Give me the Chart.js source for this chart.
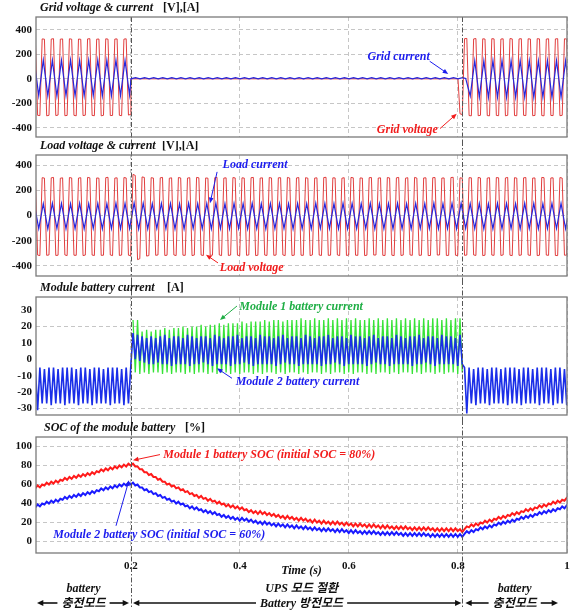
<!DOCTYPE html>
<html>
<head>
<meta charset="utf-8">
<script src="https://cdn.jsdelivr.net/npm/chart.js@4.4.1/dist/chart.umd.min.js"></script>
<style>
  html, body { margin: 0; padding: 0; background: #fff; }
  #wrap { position: relative; width: 570px; height: 612px; overflow: hidden; }
  canvas { position: absolute; left: 0; }
</style>
</head>
<body>
<div id="wrap">
  <canvas id="p1" width="570" height="141" style="top:0px"></canvas>
  <canvas id="p2" width="570" height="139" style="top:141px"></canvas>
  <canvas id="p3" width="570" height="140" style="top:280px"></canvas>
  <canvas id="p4" width="570" height="192" style="top:420px"></canvas>
</div>
<script>
// Axes
const X_MIN = 0.0257;
const timeTicks = [0.2, 0.4, 0.6, 0.8, 1];
const acTicks = [-400, -200, 0, 200, 400];
const batTicks = [-30, -20, -10, 0, 10, 20, 30];
const batGrid = [20, -30];
const socTicks = [0, 20, 40, 60, 80, 100];

// Switching instants: grid lost / grid back (s)
const events = [0.2, 0.808];
const modeLabels = [["battery", "충전모드"], ["UPS 모드 절환", "Battery 방전모드"], ["battery", "충전모드"]];

// Sampling of the read-off values (60 Hz waveforms)
const DT_Q = 1 / 240;      // quarter cycle
const DT_H = 1 / 120;      // half cycle
const T_V = 0.0245;        // first voltage / battery / SOC sample
const T_I = 0.0224;        // first current peak
const T_OFF = 0.2;
const DT_OFF = 1 / 30;
const T_VBACK = 0.8037;
const T_IBACK = 0.8141;
const T_BAT1 = 0.2037;

// Panel 1: grid voltage [V] and grid current [A]
const gridVoltPre = [322,
  -298, -300, 326, 324, -302, -298, 325, 328, -300, -296, 324, 326, -301, -299, 327, 324,
  -298, -302, 325, 323, -300, -297, 326, 328, -299, -301, 324, 325, -302, -298, 327, 324,
  -300, -299, 325, 326, -298, -301, 324, 327, -296, -290];
const gridVoltOff = [0, 0, 0, 0, 0, 0, 0, 0, 0, 0, 0, 0, 0, 0, 0, 0, 0, 0, 0];
const gridVoltPost = [-285, -292, 328, 330, -300, -302, 326, 329, -301, -298, 327, 325,
  -300, -302, 328, 326, -299, -301, 325, 327, -302, -298, 329, 326, -300, -301, 326, 328,
  -298, -300, 327, 325, -301, -299, 328, 326, -300, -302, 325, 327, -299, -300, 326, 328,
  -301, -298, 327, 325, -300];
const gridCurPre = [150, -136, 153, -138, 151, -140, 152, -137, 154, -139, 150, -138,
  152, -136, 153, -140, 151, -138, 152, -137, 150, -132];
const gridCurOff = [0, 9, 0, 9, 0, 9, 0, 9, 0, 9, 0, 9, 0, 9, 0, 9, 0, 9, 0, 9, 0, 9, 0, 9,
  0, 9, 0, 9, 0, 9, 0, 9, 0, 9, 0, 9, 0, 9, 0, 9, 0, 9, 0, 9, 0, 9, 0, 9, 0, 9, 0, 9,
  0, 9, 0, 9, 0, 9, 0, 9, 0, 9, 0, 9, 0, 9, 0, 9, 0, 9, 0, 9, 0, 9];
const gridCurPost = [3, -140, 148, -150, 147, -152, 149, -150, 148, -151, 147, -149,
  149, -150, 148, -152, 147, -150, 149, -151, 148, -150, 147, -150];

// Panel 2: load voltage [V] and load current [A]
const loadVolt = [296,
  -314, -318, 300, 297, -316, -313, 299, 302, -317, -315, 296, 299, -313, -318, 301, 298,
  -315, -316, 297, 300, -318, -314, 302, 299, -314, -317, 298, 296, -316, -315, 300, 303,
  -313, -318, 297, 299, -317, -314, 301, 298, -315, -318, 326, 318, -350, -343, 306, 302,
  -322, -318, 300, 297, -316, -313, 299, 302, -317, -315, 296, 299, -313, -318, 301, 298,
  -315, -316, 297, 300, -318, -314, 302, 299, -314, -317, 298, 296, -316, -315, 300, 303,
  -313, -318, 297, 299, -317, -314, 301, 298, -315, -318, 299, 297, -316, -313, 300, 302,
  -318, -315, 297, 299, -314, -317, 301, 298, -316, -314, 299, 300, -313, -318, 302, 297,
  -317, -315, 298, 301, -315, -316, 300, 296, -318, -313, 297, 299, -314, -317, 301, 303,
  -316, -315, 299, 298, -313, -318, 296, 300, -317, -314, 302, 299, -315, -316, 298, 297,
  -318, -315, 300, 301, -314, -313, 297, 299, -316, -317, 301, 298, -315, -318, 299, 302,
  -317, -314, 296, 300, -313, -316, 302, 297, -316, -315, 298, 299, -318, -317, 300, 301,
  -314, -313, 297, 298, -317, -316, 301, 303, -315, -318, 299, 296, -316, -314, 300, 299,
  -313, -317, 302, 298, -318, -315, 297, 300, -314, -316, 301, 299, -317, -313, 298, 302,
  -315, -318, 300, 297, -316, -314, 299, 301, -313, -317, 297, 298, -318, -315, 302, 300,
  -314, -316, 298, 299, -317, -318, 301, 297, -315, -314, 300];
const loadCur = [96, -104, 95, -106, 97, -103, 96, -105, 94, -104,
  97, -105, 95, -103, 96, -106, 94, -104, 97, -105,
  96, -104, 100, -108, 98, -105, 95, -103, 97, -104,
  96, -106, 94, -105, 97, -103, 95, -104, 96, -106,
  97, -104, 95, -105, 96, -103, 94, -106, 97, -104,
  95, -105, 96, -104, 97, -103, 95, -106, 96, -104,
  94, -105, 97, -103, 96, -104, 95, -106, 97, -105,
  96, -104, 94, -103, 97, -105, 95, -104, 96, -106,
  97, -104, 95, -105, 96, -103, 94, -104, 97, -106,
  95, -104, 96, -105, 97, -103, 95, -104, 96, -106,
  94, -105, 97, -104, 96, -103, 95, -106, 97, -104,
  96, -105, 95, -104, 97, -103, 96, -105, 94];

// Panel 3: module battery currents [A]
const bat1Cur = [24, -8, 24, -9, 17, -8, 18, -9, 17, -8, 18, -8, 18, -9, 19, -8, 18, -9, 19, -8,
  19, -8, 20, -9, 19, -8, 20, -9, 20, -8, 21, -8, 20, -9, 21, -8, 21, -9, 22, -8,
  21, -8, 22, -9, 22, -8, 22, -9, 23, -8, 22, -8, 23, -9, 23, -8, 23, -9, 24, -8,
  23, -8, 24, -9, 24, -8, 23, -9, 24, -8, 24, -8, 24, -9, 25, -8, 24, -9, 24, -8,
  25, -8, 24, -9, 24, -8, 25, -9, 24, -8, 25, -8, 24, -9, 25, -8, 24, -9, 25, -8,
  24, -8, 24, -9, 25, -8, 24, -9, 25, -8, 24, -8, 25, -9, 24, -8, 25, -9, 24, -8,
  25, -8, 24, -9, 25, -8, 24, -9, 25, -8, 24, -8, 25, -9, 25, -8, 24, -9, 25, -8,
  24, -8, 25, -9, 25, -8];
const bat2Cur = [
  -5, -31, -5, -27, -6, -27, -5, -28, -5, -27, -6, -27, -5, -28, -5, -27, -5, -27, -6, -28,
  -5, -27, -5, -27, -6, -28, -5, -27, -5, -27, -6, -27, -5, -28, -5, -27, -5, -27, -6, -28,
  -5, -27, -5,
  16, 0, 15, -1, 14, -2, 13, -3, 14, -3, 13, -2, 14, -3, 15, -3, 13, -4, 14, -3,
  14, -3, 13, -3, 15, -4, 14, -3, 13, -3, 14, -2, 14, -3, 13, -4, 15, -3, 14, -3,
  13, -3, 14, -4, 14, -3, 15, -3, 13, -2, 14, -3, 14, -4, 13, -3, 15, -3, 14, -3,
  14, -3, 13, -4, 14, -3, 15, -2, 13, -3, 14, -3, 14, -4, 13, -3, 15, -3, 14, -3,
  13, -3, 14, -4, 14, -3, 15, -3, 13, -2, 14, -3, 14, -4, 13, -3, 15, -3, 14, -3,
  14, -3, 13, -4, 14, -3, 15, -2, 13, -3, 14, -3, 14, -4, 13, -3, 15, -3, 14, -3,
  13, -3, 14, -4, 14, -3, 15, -3, 13, -2, 14, -3, 14, -4, 13, -3, 15, -3, 14, -3,
  14, -3, 13, -4, 15, -3,
  -5, -33, -5, -27, -6, -28, -5, -27, -5, -27, -6, -28, -5, -27, -5, -27, -6, -27, -5, -28,
  -5, -27, -5, -27, -6, -28, -5, -27, -5, -27, -6, -27, -5, -28, -5, -27, -5, -27, -6, -28,
  -5, -27, -5, -27, -6, -28, -5];

// Panel 4: SOC [%]
const soc1 = [
  56, 59, 57, 60, 59, 62, 60, 63, 61, 64, 62, 65, 64, 67, 65, 68, 66, 69, 67, 70,
  68, 71, 69, 72, 70, 73, 71, 74, 73, 76, 74, 77, 75, 78, 76, 79, 77, 80, 78, 81, 79, 82, 80,
  82, 79, 79, 76, 76, 73, 73, 70, 71, 68, 68, 65, 66, 63, 63, 60, 61, 58, 59, 56,
  57, 54, 55, 52, 53, 50, 51, 48, 49, 46, 48, 45, 46, 43, 45, 42, 43, 40, 42, 39,
  40, 37, 39, 36, 38, 35, 37, 34, 36, 33, 34, 31, 33, 30, 32, 29, 32, 29, 31, 28,
  30, 27, 29, 26, 28, 25, 27, 24, 27, 24, 26, 23, 25, 22, 25, 22, 24, 21, 23, 20,
  23, 20, 22, 19, 22, 19, 21, 18, 21, 18, 21, 18, 20, 17, 20, 17, 19, 16, 19, 16,
  19, 16, 18, 15, 18, 15, 18, 15, 17, 14, 17, 14, 17, 14, 16, 13, 16, 13, 16, 13,
  16, 13, 15, 12, 15, 12, 15, 12, 15, 12, 15, 12, 14, 11, 14, 11, 14, 11, 14, 11,
  14, 11, 14, 11, 13, 10,
  13, 16, 15, 18, 16, 19, 17, 20, 19, 22, 20, 23, 21, 24, 23, 26, 24, 27, 25, 28,
  27, 30, 28, 31, 29, 32, 31, 34, 32, 35, 33, 36, 35, 38, 36, 39, 37, 40, 39, 42,
  40, 43, 41, 44, 43, 46, 44];
const soc2 = [
  36, 39, 37, 40, 39, 42, 40, 43, 41, 44, 42, 45, 44, 47, 45, 48, 46, 49, 47, 50,
  48, 51, 49, 52, 50, 53, 51, 54, 53, 56, 54, 57, 55, 58, 56, 59, 57, 60, 58, 61, 59, 62, 60,
  62, 59, 60, 57, 57, 54, 55, 52, 53, 50, 51, 48, 49, 46, 47, 44, 45, 42, 43, 40,
  42, 39, 40, 37, 38, 35, 37, 34, 36, 33, 34, 31, 33, 30, 32, 29, 31, 28, 29, 26,
  28, 25, 27, 24, 26, 23, 25, 22, 25, 22, 24, 21, 23, 20, 22, 19, 21, 18, 21, 18,
  20, 17, 19, 16, 19, 16, 18, 15, 18, 15, 17, 14, 17, 14, 16, 13, 16, 13, 15, 12,
  15, 12, 14, 11, 14, 11, 14, 11, 13, 10, 13, 10, 13, 10, 12, 9, 12, 9, 12, 9,
  11, 8, 11, 8, 11, 8, 11, 8, 10, 7, 10, 7, 10, 7, 10, 7, 10, 7, 9, 6,
  9, 6, 9, 6, 9, 6, 9, 6, 9, 6, 8, 5, 8, 5, 8, 5, 8, 5, 8, 5,
  8, 5, 8, 5, 8, 5,
  8, 11, 9, 12, 10, 13, 12, 15, 13, 16, 14, 17, 15, 18, 17, 20, 18, 21, 19, 22,
  20, 23, 21, 24, 23, 26, 24, 27, 25, 28, 26, 29, 28, 31, 29, 32, 30, 33, 31, 34,
  32, 35, 34, 37, 35, 38, 36];

const RED = "#f21c1c";
const BLUE = "#1c1cee";
const GREEN = "#1fae45";
const SERIF = '"Liberation Serif", "Times New Roman", serif';
const MIXED = '"Liberation Serif", "Noto Sans CJK KR", serif';

function pts(values, t0, dt) {
    return values.map((v, i) => ({ x: t0 + i * dt, y: v }));
}

function drawArrow(ctx, x1, y1, x2, y2, color, head, width, spread) {
    const ang = Math.atan2(y2 - y1, x2 - x1);
    ctx.strokeStyle = color;
    ctx.fillStyle = color;
    ctx.lineWidth = width;
    ctx.beginPath();
    ctx.moveTo(x1, y1);
    ctx.lineTo(x2 - Math.cos(ang) * head * 0.7, y2 - Math.sin(ang) * head * 0.7);
    ctx.stroke();
    ctx.beginPath();
    ctx.moveTo(x2, y2);
    ctx.lineTo(x2 - head * Math.cos(ang - spread), y2 - head * Math.sin(ang - spread));
    ctx.lineTo(x2 - head * Math.cos(ang + spread), y2 - head * Math.sin(ang + spread));
    ctx.closePath();
    ctx.fill();
}

// mode bands under the time axis
function drawModes(chart) {
    const { ctx, chartArea: a } = chart;
    const xs = chart.scales.x;
    const e0 = xs.getPixelForValue(events[0]);
    const e1 = xs.getPixelForValue(events[1]);
    ctx.fillStyle = "#111";
    ctx.textAlign = "center";
    ctx.textBaseline = "middle";
    ctx.font = `italic bold 12px ${SERIF}`;
    ctx.fillText("Time (s)", xs.getPixelForValue(0.513), a.bottom + 18);

    const spans = [
        [a.left + 1, e0 - 2, (a.left + e0) / 2],
        [e0 + 2, e1 - 1, xs.getPixelForValue(0.513)],
        [e1 + 3, a.right - 9, (e1 + a.right) / 2],
    ];
    spans.forEach(([l, r, c], i) => {
        const [top, bottom] = modeLabels[i];
        ctx.fillStyle = "#111";
        ctx.font = `italic bold 12px ${MIXED}`;
        ctx.fillText(top, c, a.bottom + 36);
        ctx.fillText(bottom, c, a.bottom + 51);
        const w = ctx.measureText(bottom).width;
        const y = a.bottom + 50;
        drawArrow(ctx, c - w / 2 - 4, y, l, y, "#111", 7, 1.6, 0.45);
        drawArrow(ctx, c + w / 2 + 4, y, r, y, "#111", 7, 1.6, 0.45);
    });
}

const figure = {
    id: "figure",
    afterDatasetsDraw(chart, args, opts) {
        const { ctx, chartArea: a } = chart;
        const xs = chart.scales.x, ys = chart.scales.y;
        ctx.save();
        // switching instants
        ctx.strokeStyle = "#555";
        ctx.lineWidth = 1;
        ctx.setLineDash([5, 2, 1.5, 2]);
        events.forEach(t => {
            const px = Math.round(xs.getPixelForValue(t)) + 0.5;
            ctx.beginPath();
            ctx.moveTo(px, opts.eventTop);
            ctx.lineTo(px, opts.eventBottom);
            ctx.stroke();
        });
        ctx.setLineDash([]);
        // frame
        ctx.strokeStyle = "#7a7a7a";
        ctx.lineWidth = 1.3;
        ctx.strokeRect(a.left, a.top, a.right - a.left, a.bottom - a.top);
        // title
        ctx.fillStyle = "#111";
        ctx.textBaseline = "middle";
        ctx.textAlign = "left";
        ctx.font = `italic bold 12px ${SERIF}`;
        ctx.fillText(opts.title, opts.titleX, a.top - 9);
        ctx.font = `bold 12px ${SERIF}`;
        ctx.fillText(opts.unit, opts.unitX, a.top - 9);
        // labels and pointers
        ctx.font = `italic bold 12px ${SERIF}`;
        (opts.notes || []).forEach(n => {
            ctx.fillStyle = n.color;
            ctx.fillText(n.text, xs.getPixelForValue(n.x), ys.getPixelForValue(n.y));
            drawArrow(ctx, xs.getPixelForValue(n.from[0]), ys.getPixelForValue(n.from[1]),
                xs.getPixelForValue(n.to[0]), ys.getPixelForValue(n.to[1]), n.color, 6, 1, 0.4);
        });
        if (opts.modes) drawModes(chart);
        ctx.restore();
    }
};

function panel(id, datasets, yMin, yMax, yTicks, gridY, pad, fig, showTime) {
    const tickFont = { family: SERIF, weight: "bold", size: 11 };
    return new Chart(document.getElementById(id), {
        type: "line",
        data: { datasets },
        options: {
            responsive: false,
            animation: false,
            events: [],
            layout: { padding: { top: pad[0], bottom: pad[1], left: 0, right: 3 } },
            elements: { point: { radius: 0 }, line: { tension: 0 } },
            plugins: { legend: { display: false }, tooltip: { enabled: false }, figure: fig },
            scales: {
                x: {
                    type: "linear", min: X_MIN, max: 1,
                    afterBuildTicks: s => { s.ticks = timeTicks.map(v => ({ value: v })); },
                    afterFit: s => { s.height = showTime ? 20 : 0; s.paddingLeft = 0; s.paddingRight = 0; },
                    ticks: { display: showTime, autoSkip: false, maxRotation: 0, padding: 7,
                        color: "#111", font: tickFont, callback: v => String(v) },
                    grid: { color: "#c6c6c6", lineWidth: 1, drawTicks: false },
                    border: { display: false, dash: [4, 3] },
                },
                y: {
                    type: "linear", min: yMin, max: yMax,
                    afterBuildTicks: s => { s.ticks = yTicks.map(v => ({ value: v })); },
                    afterFit: s => { s.width = 36; s.paddingTop = 0; s.paddingBottom = 0; },
                    ticks: { padding: 4, color: "#111", font: tickFont, callback: v => String(v) },
                    grid: {
                        color: c => (c.tick && gridY.includes(c.tick.value)) ? "#c6c6c6" : "rgba(0,0,0,0)",
                        lineWidth: 1, drawTicks: false
                    },
                    border: { display: false, dash: [4, 3] },
                },
            },
        },
        plugins: [figure],
    });
}

const redWave = "rgba(222,42,42,0.9)";
const blueWave = "#2626dc";

panel("p1", [
    { data: [...pts(gridCurPre, T_I, DT_H), ...pts(gridCurOff, T_OFF, DT_H), ...pts(gridCurPost, T_IBACK, DT_H)],
      borderColor: blueWave, borderWidth: 1.2 },
    { data: [...pts(gridVoltPre, T_V, DT_Q), ...pts(gridVoltOff, T_OFF, DT_OFF), ...pts(gridVoltPost, T_VBACK, DT_Q)],
      borderColor: redWave, borderWidth: 1 },
], -475, 505, acTicks, acTicks, [17, 4], {
    title: "Grid voltage & current", titleX: 40, unit: "[V],[A]", unitX: 163,
    eventTop: 17, eventBottom: 141,
    notes: [
        { text: "Grid current", color: BLUE, x: 0.634, y: 176, from: [0.748, 144], to: [0.782, 40] },
        { text: "Grid voltage", color: RED, x: 0.651, y: -417, from: [0.767, -406], to: [0.7976, -286] },
    ],
}, false);

panel("p2", [
    { data: pts(loadCur, T_I, DT_H), borderColor: blueWave, borderWidth: 1.2 },
    { data: pts(loadVolt, T_V, DT_Q), borderColor: redWave, borderWidth: 1 },
], -480, 480, acTicks, acTicks, [14, 4], {
    title: "Load voltage & current", titleX: 40, unit: "[V],[A]", unitX: 162,
    eventTop: 0, eventBottom: 139,
    notes: [
        { text: "Load current", color: BLUE, x: 0.368, y: 400, from: [0.358, 346], to: [0.345, 98] },
        { text: "Load voltage", color: RED, x: 0.363, y: -414, from: [0.3596, -376], to: [0.3376, -312] },
    ],
}, false);

panel("p3", [
    { data: pts(bat2Cur, T_V, DT_Q), borderColor: "#1a2ee8", borderWidth: 1.6 },
    { data: pts(bat1Cur, T_BAT1, DT_Q), borderColor: "#36e336", borderWidth: 1.3 },
], -34, 38, batTicks, batGrid, [17, 5], {
    title: "Module battery current", titleX: 40, unit: "[A]", unitX: 167,
    eventTop: 0, eventBottom: 140,
    notes: [
        { text: "Module 1 battery current", color: GREEN, x: 0.3987, y: 32.1, from: [0.3945, 32.5], to: [0.3633, 24] },
        { text: "Module 2 battery current", color: BLUE, x: 0.3921, y: -14, from: [0.3853, -11.6], to: [0.3578, -5.5] },
    ],
}, false);

panel("p4", [
    { data: pts(soc1, T_V, DT_Q), borderColor: "#ff1a1a", borderWidth: 2 },
    { data: pts(soc2, T_V, DT_Q), borderColor: "#1a1aff", borderWidth: 2 },
], -12, 110, socTicks, socTicks, [17, 39], {
    title: "SOC of the module battery", titleX: 44, unit: "[%]", unitX: 185,
    eventTop: 0, eventBottom: 188, modes: true,
    notes: [
        { text: "Module 1 battery SOC (initial SOC = 80%)", color: RED, x: 0.2593, y: 91.5, from: [0.2532, 91.5], to: [0.2037, 85.5] },
        { text: "Module 2 battery SOC (initial SOC = 60%)", color: BLUE, x: 0.0574, y: 6.8, from: [0.1725, 16.6], to: [0.1963, 64.5] },
    ],
}, true);
</script>
</body>
</html>
